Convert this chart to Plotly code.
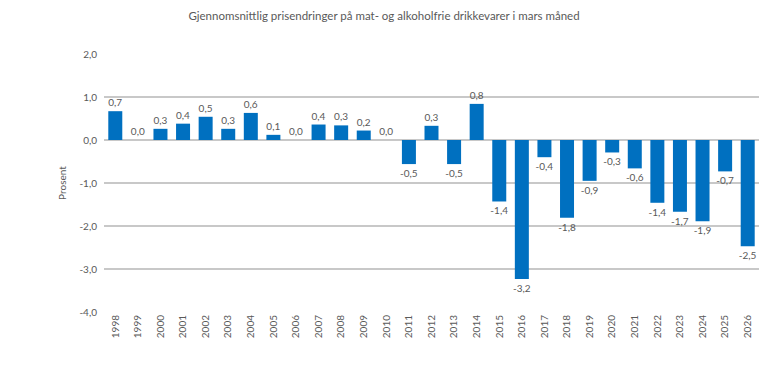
import plotly.graph_objects as go

years = [str(y) for y in range(1998, 2027)]
values = [0.67, 0.0, 0.26, 0.38, 0.54, 0.26, 0.63, 0.12, 0.0, 0.36, 0.34, 0.22, 0.0,
          -0.56, 0.33, -0.56, 0.84, -1.43, -3.23, -0.40, -1.81, -0.95, -0.29, -0.66,
          -1.46, -1.67, -1.89, -0.73, -2.47]
labels = ["0,7", "0,0", "0,3", "0,4", "0,5", "0,3", "0,6", "0,1", "0,0", "0,4", "0,3", "0,2", "0,0",
          "-0,5", "0,3", "-0,5", "0,8", "-1,4", "-3,2", "-0,4", "-1,8", "-0,9", "-0,3", "-0,6",
          "-1,4", "-1,7", "-1,9", "-0,7", "-2,5"]
ytick_vals = [2, 1, 0, -1, -2, -3, -4]
ytick_text = ["2,0", "1,0", "0,0", "-1,0", "-2,0", "-3,0", "-4,0"]

title = "Gjennomsnittlig prisendringer på mat- og alkoholfrie drikkevarer i mars måned"
font_family = "Lato, Open Sans, sans-serif"
gray = "#595959"
grid = "#C8C8C8"

fig = go.Figure(go.Bar(
    x=years, y=values, text=labels, textposition="outside",
    constraintext="none", cliponaxis=False,
    textfont=dict(size=10, color=gray, family=font_family),
    marker=dict(color="#0070C0", line=dict(width=0)),
    hoverinfo="x+y",
))

fig.update_layout(
    width=768, height=367,
    margin=dict(l=104, r=9, t=54, b=55, autoexpand=False),
    paper_bgcolor="white", plot_bgcolor="white",
    font=dict(family=font_family, color=gray, size=10),
    title=dict(text=title, x=0.5, xanchor="center", y=1 - 16 / 367, yanchor="middle",
               font=dict(size=11.5, color=gray, family=font_family)),
    bargap=0.38,
    showlegend=False,
)
fig.update_xaxes(type="category", tickangle=-90, showgrid=False, showline=False,
                 ticks="", tickfont=dict(size=10, color=gray), automargin=False)
fig.update_yaxes(range=[-4, 2], tickvals=ytick_vals, ticktext=ytick_text,
                 showgrid=True, gridcolor=grid, gridwidth=1.5,
                 zeroline=True, zerolinecolor=grid, zerolinewidth=1.5,
                 showline=False, ticks="", ticklen=0, automargin=False,
                 ticklabelstandoff=6,
                 tickfont=dict(size=10, color=gray),
                 title=dict(text="Prosent", font=dict(size=10, color=gray), standoff=10))

fig.write_html("out.html", config={"displayModeBar": False},
               post_script="document.body.style.margin='0';document.body.style.overflow='hidden';")
